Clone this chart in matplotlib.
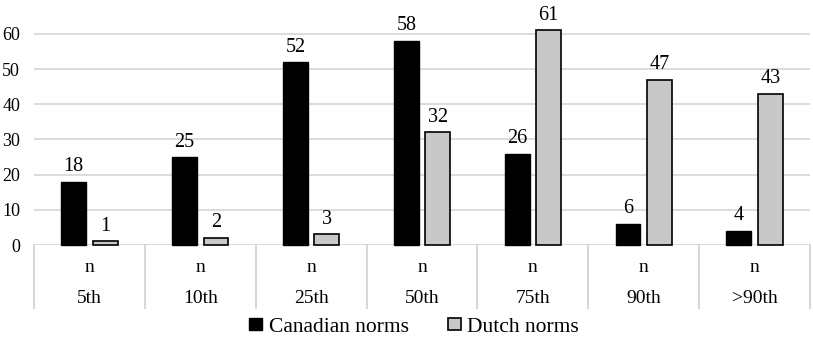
import matplotlib
matplotlib.use("Agg")
import matplotlib.pyplot as plt
from matplotlib.patches import Patch
import numpy as np

categories = ["5th", "10th", "25th", "50th", "75th", "90th", ">90th"]
sub_label = "n"
canadian = [18, 25, 52, 58, 26, 6, 4]
dutch = [1, 2, 3, 32, 61, 47, 43]
series_names = ["Canadian norms", "Dutch norms"]
yticks = [0, 10, 20, 30, 40, 50, 60]

plt.rcParams['font.family'] = ['Liberation Serif', 'DejaVu Serif']

fig = plt.figure(figsize=(8.13, 3.37), dpi=100)
ax = fig.add_axes([34/813, 92/337, 776/813, 245/337])

x = np.arange(len(categories))
w = 0.225
off = 0.142
b1 = ax.bar(x - off, canadian, w, color='black', edgecolor='black', linewidth=1.0, zorder=3, clip_on=False)
b2 = ax.bar(x + off, dutch, w, color='#c8c8c8', edgecolor='black', linewidth=1.2, zorder=3, clip_on=False)

for bars, vals in ((b1, canadian), (b2, dutch)):
    for r, v in zip(bars, vals):
        ax.annotate(str(v), (r.get_x() + r.get_width()/2, v), xytext=(0, 4),
                    textcoords='offset points', ha='center', va='bottom', fontsize=14.5)

ax.set_xlim(-0.5, len(categories) - 0.5)
ax.set_ylim(0, 69.66)
ax.set_yticks(yticks)
ax.set_xticks([])
ax.grid(axis='y', color='#d6d6d6', linewidth=1.2, zorder=0)
ax.set_axisbelow(True)
for s in ax.spines.values():
    s.set_visible(False)
ax.tick_params(axis='y', length=0, pad=10, labelsize=13)

tr = ax.get_xaxis_transform()
for b in np.arange(-0.5, len(categories)):
    ax.plot([b, b], [0, -0.257], transform=tr, color='#cfcfcf', linewidth=1.2, clip_on=False)
for i, c in enumerate(categories):
    ax.text(i, -0.09, sub_label, transform=tr, ha='center', va='center', fontsize=14)
    ax.text(i, -0.22, c, transform=tr, ha='center', va='center', fontsize=14)

handles = [Patch(facecolor='black', edgecolor='black', linewidth=1.0),
           Patch(facecolor='#c8c8c8', edgecolor='black', linewidth=1.2)]
fig.legend(handles, series_names, loc='center', bbox_to_anchor=(414/813, 10/337), ncol=2,
           frameon=False, fontsize=15.5, handlelength=0.62, handleheight=0.5,
           handletextpad=0.3, columnspacing=1.8, borderaxespad=0, borderpad=0)

fig.savefig("out.png", dpi=100)
